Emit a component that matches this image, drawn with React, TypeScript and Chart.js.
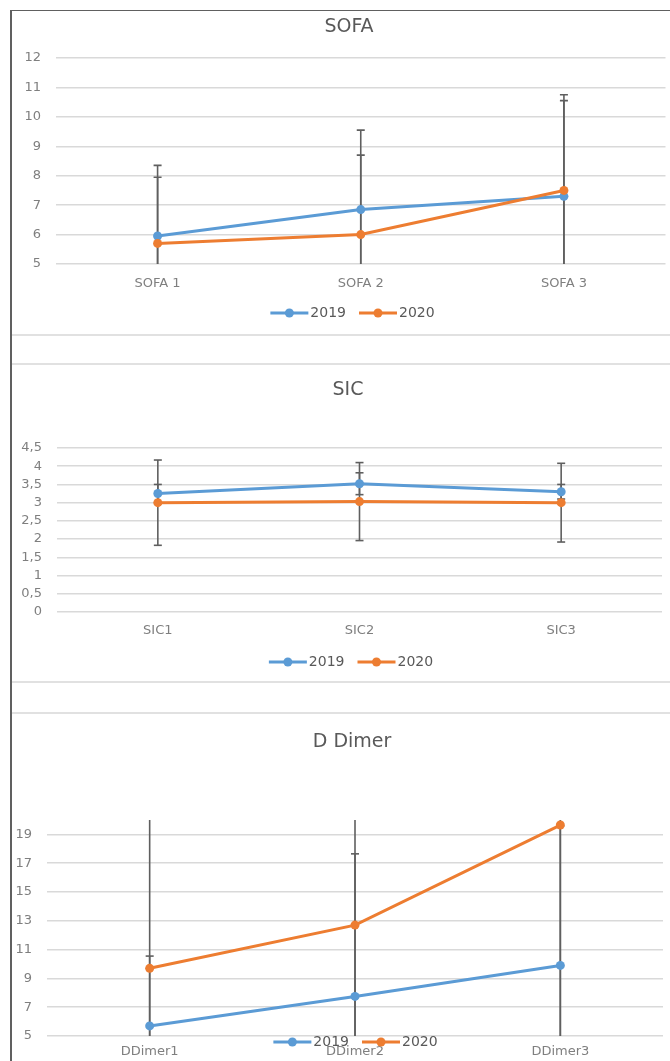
import React, { useEffect, useRef } from 'react';
import { Chart, registerables } from 'chart.js';

Chart.register(...registerables);

const FONT = '"DejaVu Sans", "Liberation Sans", Arial, sans-serif';
const BLUE = '#5B9BD5';
const ORANGE = '#ED7D31';
const TEXT = '#595959';
const TICK = '#7f7f7f';
const GRID = '#d9d9d9';

const seriesNames = ['2019', '2020'];

// SOFA
const sofaLabels = ['SOFA 1', 'SOFA 2', 'SOFA 3'];
const sofa2019 = [5.95, 6.85, 7.3];
const sofa2020 = [5.7, 6.0, 7.5];
const sofaErr2019 = [2.4, 2.7, 3.45];
const sofaErr2020 = [2.25, 2.7, 3.05];
const sofaTicks = [5, 6, 7, 8, 9, 10, 11, 12];

// SIC
const sicLabels = ['SIC1', 'SIC2', 'SIC3'];
const sic2019 = [3.25, 3.52, 3.3];
const sic2020 = [3.0, 3.03, 3.0];
const sicErr2019 = [0.25, 0.3, 0.2];
const sicErr2020 = [1.17, 1.07, 1.08];
const sicTicks = [0, 0.5, 1, 1.5, 2, 2.5, 3, 3.5, 4, 4.5];

// D Dimer
const ddimerLabels = ['DDimer1', 'DDimer2', 'DDimer3'];
const ddimer2019 = [5.7, 7.75, 9.9];
const ddimer2020 = [9.7, 12.7, 19.65];
const ddimerErr2019 = [4.85, 9.9, 9.7];
const ddimerErr2020 = [12, 11, 15];
const ddimerTicks = [5, 7, 9, 11, 13, 15, 17, 19];

const errorBarPlugin = {
  id: 'errorBars',
  beforeDatasetsDraw(chart: any, _args: any, opts: any) {
    const { ctx, chartArea } = chart;
    const y = chart.scales.y;
    ctx.save();
    ctx.beginPath();
    ctx.rect(chartArea.left, chartArea.top, chartArea.right - chartArea.left, chartArea.bottom - chartArea.top);
    ctx.clip();
    ctx.strokeStyle = opts.color || TEXT;
    ctx.lineWidth = opts.width || 1.5;
    chart.data.datasets.forEach((ds: any, di: number) => {
      const meta = chart.getDatasetMeta(di);
      const errs = ds.errors || [];
      meta.data.forEach((pt: any, i: number) => {
        const v = ds.data[i];
        const e = errs[i];
        if (e == null) return;
        const x = pt.x;
        const yTop = y.getPixelForValue(v + e);
        const yBot = y.getPixelForValue(v - e);
        ctx.beginPath();
        ctx.moveTo(x, yTop);
        ctx.lineTo(x, yBot);
        ctx.stroke();
        [yTop, yBot].forEach((yy) => {
          ctx.beginPath();
          ctx.moveTo(x - 4, yy);
          ctx.lineTo(x + 4, yy);
          ctx.stroke();
        });
      });
    });
    ctx.restore();
  },
};

const decorPlugin = {
  id: 'decor',
  afterDraw(chart: any, _args: any, opts: any) {
    const ctx = chart.ctx;
    ctx.save();
    ctx.fillStyle = TEXT;
    ctx.font = `19px ${FONT}`;
    ctx.textAlign = 'center';
    ctx.textBaseline = 'middle';
    ctx.fillText(opts.title, opts.titleX, opts.titleY);

    ctx.font = `14px ${FONT}`;
    const lineLen = 38;
    const gapText = 2;
    const gapItem = 13;
    const items = chart.data.datasets.map((ds: any) => ({
      label: ds.label,
      color: ds.borderColor,
      w: ctx.measureText(ds.label).width,
    }));
    const total =
      items.reduce((s: number, it: any) => s + lineLen + gapText + it.w, 0) + gapItem * (items.length - 1);
    let x = opts.legendX - total / 2;
    const ly = opts.legendY;
    items.forEach((it: any) => {
      ctx.strokeStyle = it.color;
      ctx.lineWidth = 3;
      ctx.beginPath();
      ctx.moveTo(x, ly);
      ctx.lineTo(x + lineLen, ly);
      ctx.stroke();
      ctx.fillStyle = it.color;
      ctx.beginPath();
      ctx.arc(x + lineLen / 2, ly, 4.5, 0, Math.PI * 2);
      ctx.fill();
      ctx.fillStyle = TEXT;
      ctx.textAlign = 'left';
      ctx.fillText(it.label, x + lineLen + gapText, ly + 0.5);
      x += lineLen + gapText + it.w + gapItem;
    });
    ctx.restore();
  },
};

type PanelSpec = {
  title: string;
  titleX: number;
  titleY: number;
  legendX: number;
  legendY: number;
  labels: string[];
  d2019: number[];
  d2020: number[];
  e2019: number[];
  e2020: number[];
  ticks: number[];
  min: number;
  max: number;
  padTop: number;
  padRight: number;
  padBottom: number;
  yWidth: number;
  xHeight: number;
  xPad: number;
  comma?: boolean;
};

function makeConfig(p: PanelSpec): any {
  const ds = (label: string, data: number[], errors: number[], color: string, order: number) => ({
    label,
    data,
    errors,
    borderColor: color,
    backgroundColor: color,
    borderWidth: 3,
    pointRadius: 4.5,
    pointHoverRadius: 4.5,
    pointBorderWidth: 0,
    pointBackgroundColor: color,
    tension: 0,
    order,
  });
  return {
    type: 'line',
    data: {
      labels: p.labels,
      datasets: [
        ds(seriesNames[0], p.d2019, p.e2019, BLUE, 2),
        ds(seriesNames[1], p.d2020, p.e2020, ORANGE, 1),
      ],
    },
    options: {
      animation: false,
      responsive: false,
      maintainAspectRatio: false,
      events: [],
      layout: { padding: { left: 0, top: p.padTop, right: p.padRight, bottom: p.padBottom } },
      plugins: {
        legend: { display: false },
        title: { display: false },
        tooltip: { enabled: false },
        errorBars: { color: '#5f5f5f', width: 1.6 },
        decor: { title: p.title, titleX: p.titleX, titleY: p.titleY, legendX: p.legendX, legendY: p.legendY },
      },
      scales: {
        x: {
          type: 'category',
          offset: true,
          grid: { display: false },
          border: { display: false },
          ticks: { color: TICK, font: { family: FONT, size: 13 }, padding: p.xPad, maxRotation: 0, autoSkip: false },
          afterFit: (s: any) => {
            s.height = p.xHeight;
          },
        },
        y: {
          type: 'linear',
          min: p.min,
          max: p.max,
          bounds: 'data',
          grid: { color: GRID, lineWidth: 1.5, drawTicks: false },
          border: { display: false },
          ticks: {
            color: TICK,
            font: { family: FONT, size: 13 },
            padding: 15,
            autoSkip: false,
            callback: (v: any) => (p.comma ? String(v).replace('.', ',') : String(v)),
          },
          afterBuildTicks: (s: any) => {
            s.ticks = p.ticks.map((v) => ({ value: v }));
          },
          afterFit: (s: any) => {
            s.width = p.yWidth;
          },
        },
      },
    },
    plugins: [errorBarPlugin, decorPlugin],
  };
}

function Panel({ top, height, spec }: { top: number; height: number; spec: PanelSpec }) {
  const ref = useRef<HTMLCanvasElement | null>(null);
  useEffect(() => {
    if (!ref.current) return;
    const chart = new Chart(ref.current, makeConfig(spec));
    return () => chart.destroy();
  }, []);
  return (
    <canvas
      ref={ref}
      width={660}
      height={height}
      style={{ position: 'absolute', left: 10, top, width: 660, height }}
    />
  );
}

const sofaSpec: PanelSpec = {
  title: 'SOFA',
  titleX: 339,
  titleY: 16,
  legendX: 342.5,
  legendY: 302,
  labels: sofaLabels,
  d2019: sofa2019,
  d2020: sofa2020,
  e2019: sofaErr2019,
  e2020: sofaErr2020,
  ticks: sofaTicks,
  min: 5,
  max: 12,
  padTop: 47,
  padRight: 3,
  padBottom: 41,
  yWidth: 46,
  xHeight: 30,
  xPad: 4,
};

const sicSpec: PanelSpec = {
  title: 'SIC',
  titleX: 338,
  titleY: 25,
  legendX: 341,
  legendY: 297,
  labels: sicLabels,
  d2019: sic2019,
  d2020: sic2020,
  e2019: sicErr2019,
  e2020: sicErr2020,
  ticks: sicTicks,
  min: 0,
  max: 4.5,
  padTop: 83,
  padRight: 8,
  padBottom: 40,
  yWidth: 47,
  xHeight: 30,
  xPad: 3,
  comma: true,
};

const ddimerSpec: PanelSpec = {
  title: 'D Dimer',
  titleX: 342,
  titleY: 28,
  legendX: 345.5,
  legendY: 328,
  labels: ddimerLabels,
  d2019: ddimer2019,
  d2020: ddimer2020,
  e2019: ddimerErr2019,
  e2020: ddimerErr2020,
  ticks: ddimerTicks,
  min: 5,
  max: 20,
  padTop: 106,
  padRight: 7,
  padBottom: 5,
  yWidth: 37,
  xHeight: 20,
  xPad: 0,
};

export default function App() {
  const line = (top: number) => (
    <div style={{ position: 'absolute', left: 11, top, width: 659, height: 2, background: '#e1e1e1' }} />
  );
  return (
    <div
      style={{
        position: 'absolute',
        left: 0,
        top: 0,
        width: 670,
        height: 1061,
        overflow: 'hidden',
        background: '#ffffff',
      }}
    >
      <Panel top={11} height={324} spec={sofaSpec} />
      <Panel top={365} height={317} spec={sicSpec} />
      <Panel top={714} height={347} spec={ddimerSpec} />
      {line(334)}
      {line(363)}
      {line(681)}
      {line(712)}
      <div style={{ position: 'absolute', left: 10, top: 10, width: 660, height: 1, background: '#606060' }} />
      <div style={{ position: 'absolute', left: 10, top: 10, width: 1.5, height: 1051, background: '#606060' }} />
    </div>
  );
}
